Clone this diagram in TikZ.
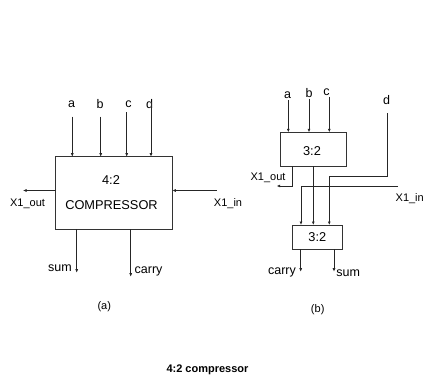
\documentclass[tikz,border=0pt]{standalone}
\usepackage{fontspec}
\setmainfont{Liberation Sans}
\usetikzlibrary{arrows.meta}
\begin{document}
\begin{tikzpicture}[x=1pt,y=-1pt,
  wire/.style={line width=0.7pt, draw=black!85},
  arr/.style={wire,-{Latex[length=3.5pt,width=3pt]}},
  blk/.style={draw=black!80, line width=1pt, inner sep=0pt, outer sep=0pt, fill=white},
  lbl/.style={font=\fontsize{11}{13}\selectfont, inner sep=0pt},
  big/.style={font=\fontsize{12.8}{15}\selectfont, inner sep=0pt},
  mid/.style={font=\fontsize{12.5}{14}\selectfont, inner sep=0pt}]
\useasboundingbox (0,0) rectangle (424,378);

% ---------- (a) ----------
\node[blk, minimum width=116.6pt, minimum height=72.6pt, anchor=north west] (A) at (55.7,156.7) {};
\node[big] (A1) at (111,180) {4:2};
\node[big] (A2) at (111.5,205) {COMPRESSOR};

\node[mid] (la) at (71.5,104.3) {a};
\node[mid] (lb) at (100,104.3) {b};
\node[mid] (lc) at (128.5,104.3) {c};
\node[mid] (ld) at (149.5,104.3) {d};
\coordinate (ia) at (72.3,116.5);
\coordinate (ib) at (100.7,116.5);
\coordinate (ic) at (126.7,112);
\coordinate (id) at (151,102);
\draw[arr] (ia) -- (ia |- A.north);
\draw[arr] (ib) -- (ib |- A.north);
\draw[arr] (ic) -- (ic |- A.north);
\draw[arr] (id) -- (id |- A.north);

\coordinate (xo) at (23,190.5);
\draw[arr] (A.west |- xo) -- (xo);
\node[lbl] (lxo) at (27.5,204) {X1\_out};
\coordinate (xi) at (216.7,190.5);
\draw[arr] (xi) -- (A.east |- xi);
\node[lbl] (lxi) at (228,203.5) {X1\_in};

\coordinate (os) at (76.7,272.7);
\draw[arr] (os |- A.south) -- (os);
\node[mid] (ls) at (60,268) {sum};
\coordinate (oc) at (130.7,276.7);
\draw[arr] (oc |- A.south) -- (oc);
\node[mid, anchor=west] (lc2) at (134.5,271.7) {carry};

\node[lbl] (capa) at (104.3,306.7) {(a)};

% ---------- (b) ----------
\node[blk, minimum width=66.7pt, minimum height=33.7pt, anchor=north west] (T) at (280,132.3) {};
\node[big] (T1) at (312,151) {3:2};
\node[blk, minimum width=50pt, minimum height=24.3pt, anchor=north west] (B) at (292.3,225) {};
\node[big] (B1) at (317.3,237.5) {3:2};

\node[mid] (ba) at (287.7,95) {a};
\node[mid] (bb) at (309,93.3) {b};
\node[mid] (bc) at (326.5,91.7) {c};
\node[mid] (bd) at (386.7,100) {d};
\coordinate (ja) at (288.3,100);
\coordinate (jb) at (309,98.5);
\coordinate (jc) at (329.3,96.5);
\draw[arr] (ja) -- (ja |- T.north);
\draw[arr] (jb) -- (jb |- T.north);
\draw[arr] (jc) -- (jc |- T.north);

\coordinate (jd) at (387.7,113.3);
\coordinate (jd2) at (329.3,176.7);
\draw[arr] (jd) -- (jd |- jd2) -- (jd2) -- (jd2 |- B.north);

\coordinate (jm) at (313.3,166);
\draw[arr] (jm |- T.south) -- (jm |- B.north);

\coordinate (jo) at (292.3,186);
\coordinate (joe) at (276.7,186);
\draw[arr] (jo |- T.south) -- (jo) -- (joe);
\node[lbl] (blxo) at (268,177.7) {X1\_out};

\coordinate (ji) at (398,186);
\coordinate (ji2) at (301,186);
\draw[arr] (ji) -- (ji2) -- (ji2 |- B.north);
\node[lbl, anchor=east] (blxi) at (424,198.3) {X1\_in};

\coordinate (kc) at (300.7,271.7);
\draw[arr] (kc |- B.south) -- (kc);
\node[mid] (bcar) at (282,272.7) {carry};
\coordinate (ks) at (334,271.7);
\draw[arr] (ks |- B.south) -- (ks);
\node[mid] (bsum) at (348.3,272.7) {sum};

\node[lbl] (capb) at (317.7,309.3) {(b)};

\node[font=\bfseries\fontsize{11}{13}\selectfont, inner sep=0pt] (title) at (207.5,370) {4:2 compressor};
\end{tikzpicture}
\end{document}
